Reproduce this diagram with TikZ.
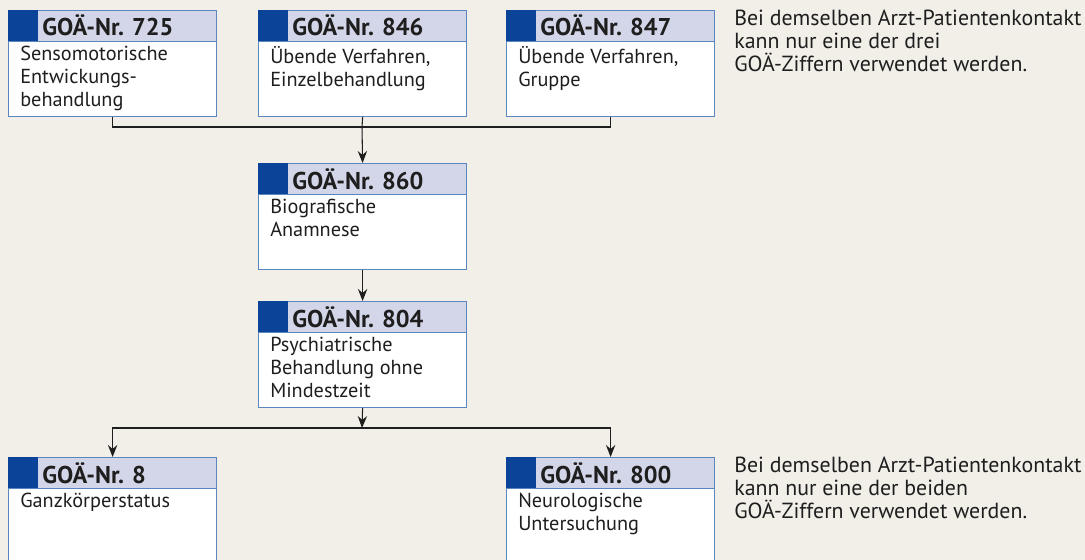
\documentclass[tikz,border=0pt]{standalone}
\usepackage{fontspec}
\setmainfont{PT Sans}
\usepackage{xcolor}
\usetikzlibrary{arrows.meta}
\definecolor{paper}{HTML}{F2EFE9}
\definecolor{frame}{HTML}{5A86C0}
\definecolor{headfill}{HTML}{D3D6E8}
\definecolor{tagblue}{HTML}{0B4399}
\definecolor{ink}{HTML}{1E1E1E}

\begin{document}
\begin{tikzpicture}[x=0.75pt, y=-0.75pt,
% common options for the boxes:
box/.style = {draw=frame, fill=white, line width=0.9pt, anchor=north west,
            minimum width=156pt, minimum height=79.5pt, inner sep=0},
head/.style = {draw=frame, fill=headfill, line width=0.9pt, anchor=north west,
            minimum width=156pt, minimum height=23.25pt, inner sep=0},
tag/.style = {fill=tagblue, anchor=north west,
            minimum width=22.5pt, minimum height=23.25pt, inner sep=0},
title/.style = {anchor=base west, inner sep=0, text=ink,
            font=\fontsize{18.2}{20}\selectfont\bfseries},
desc/.style = {anchor=north west, inner sep=0, align=left, text=ink,
            font=\fontsize{15.2}{17.25}\selectfont},
note/.style = {desc, font=\fontsize{16.4}{17.25}\selectfont},
% common options for the connectors:
link/.style = {draw=ink, line width=0.8pt},
arr/.style = {link, -{Stealth[length=9pt, width=7pt, inset=3pt]}}]
\fill[paper] (0,0) rectangle (1085,560);
\useasboundingbox (0,0) rectangle (1085,560);
% top row
\node[box] (b725) at (8,10) {};
\node[head] (h725) at (8,10) {};
\node[tag] at (8,10) {};
\node[title] (t725) at (42,36) {GOÄ-Nr. 725};
\node[desc] (d725) at (20,46) {Sensomotorische\\Entwickungs-\\behandlung};
\node[box] (b846) at (258,10) {};
\node[head] (h846) at (258,10) {};
\node[tag] at (258,10) {};
\node[title] (t846) at (292,36) {GOÄ-Nr. 846};
\node[desc] (d846) at (270,46) {Übende Verfahren,\\Einzelbehandlung};
\node[box] (b847) at (506,10) {};
\node[head] (h847) at (506,10) {};
\node[tag] at (506,10) {};
\node[title] (t847) at (540,36) {GOÄ-Nr. 847};
\node[desc] (d847) at (518,46) {Übende Verfahren,\\Gruppe};
\node[note] (n1) at (734,10) {Bei demselben Arzt-Patientenkontakt\\kann nur eine der drei\\GOÄ-Ziffern verwendet werden.};
% middle column
\node[box] (b860) at (258,163) {};
\node[head] (h860) at (258,163) {};
\node[tag] at (258,163) {};
\node[title] (t860) at (292,189) {GOÄ-Nr. 860};
\node[desc] (d860) at (270,199) {Biografische\\Anamnese};
\node[box] (b804) at (258,301) {};
\node[head] (h804) at (258,301) {};
\node[tag] at (258,301) {};
\node[title] (t804) at (292,327) {GOÄ-Nr. 804};
\node[desc] (d804) at (270,337) {Psychiatrische\\Behandlung ohne\\Mindestzeit};
% bottom row
\node[box, minimum height=90pt] (b8) at (8,457) {};
\node[head] (h8) at (8,457) {};
\node[tag] at (8,457) {};
\node[title] (t8) at (42,483) {GOÄ-Nr. 8};
\node[desc] (d8) at (20,493) {Ganzkörperstatus};
\node[box, minimum height=90pt] (b800) at (506,457) {};
\node[head] (h800) at (506,457) {};
\node[tag] at (506,457) {};
\node[title] (t800) at (540,483) {GOÄ-Nr. 800};
\node[desc] (d800) at (518,493) {Neurologische\\Untersuchung};
\node[note] (n2) at (734,457) {Bei demselben Arzt-Patientenkontakt\\kann nur eine der beiden\\GOÄ-Ziffern verwendet werden.};
% connectors
\coordinate (j1) at (362,127);
\coordinate (j2) at (362,428);
\draw[link] (b725.south) |- (j1);
\draw[link] (b847.south) |- (j1);
\draw[link] (b846.south) -- (j1);
\draw[arr] (j1) -- (b860.north);
\draw[arr] (b860.south) -- (b804.north);
\draw[arr] (b804.south) -- (j2);
\draw[link] (b8.north |- j2) -- (b800.north |- j2);
\draw[arr] (j2) -| (b8.north);
\draw[arr] (j2) -| (b800.north);
\end{tikzpicture}
\end{document}
